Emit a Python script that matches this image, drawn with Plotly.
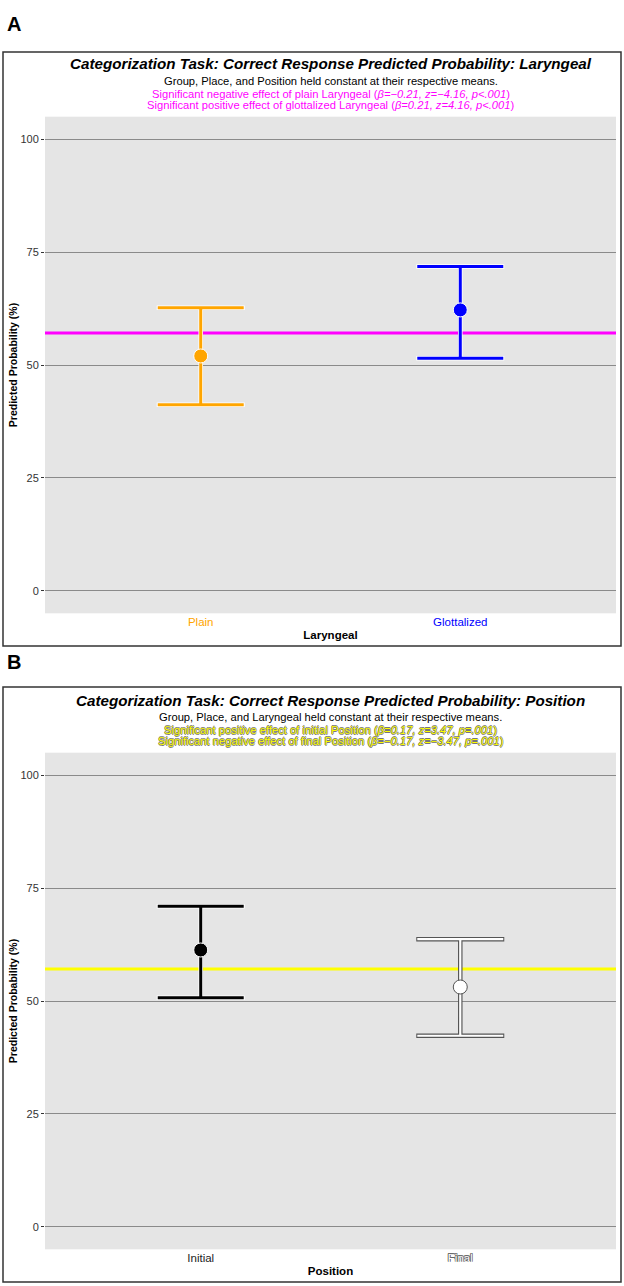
import plotly.graph_objects as go

# ---- data ----
lar_cats = ["Plain", "Glottalized"]
lar_est = [52.0, 62.2]
lar_low = [41.2, 51.5]
lar_high = [62.7, 71.8]
lar_colors = ["#FFA500", "#0000FF"]
lar_mean = 57.1

pos_cats = ["Initial", "Final"]
pos_est = [61.3, 53.1]
pos_low = [50.7, 42.3]
pos_high = [71.0, 63.7]
pos_mean = 57.1

y_ticks = [0, 25, 50, 75, 100]
x_range = [0.4, 2.6]

W, H = 624, 1286
FONT = "Liberation Sans, Arial, sans-serif"

def px(x):
    return x / W

def py(y):
    return 1 - y / H

fig = go.Figure()

def add_panel(est, low, high, mean, mean_color, xa, ya, styles):
    xs = [1, 2]
    # mean reference line (under the error bars)
    fig.add_trace(go.Scatter(x=x_range, y=[mean, mean], mode="lines", xaxis=xa, yaxis=ya,
                             line=dict(color=mean_color, width=3), showlegend=False, hoverinfo="skip"))
    for i in range(2):
        st = styles[i]
        eplus = [high[i] - est[i]]
        eminus = [est[i] - low[i]]
        fig.add_trace(go.Scatter(
            x=[xs[i]], y=[est[i]], mode="markers", xaxis=xa, yaxis=ya,
            marker=dict(size=0.1, color="rgba(0,0,0,0)"),
            error_y=dict(type="data", symmetric=False, array=eplus, arrayminus=eminus,
                         color=st["halo"], thickness=st["halo_th"], width=44),
            showlegend=False, hoverinfo="skip"))
        fig.add_trace(go.Scatter(
            x=[xs[i]], y=[est[i]], mode="markers", xaxis=xa, yaxis=ya,
            marker=dict(size=14, color=st["fill"], line=dict(color=st["mline"], width=st["mlw"])),
            error_y=dict(type="data", symmetric=False, array=eplus, arrayminus=eminus,
                         color=st["bar"], thickness=st["th"], width=43),
            showlegend=False))

add_panel(lar_est, lar_low, lar_high, lar_mean, "#FF00FF", "x", "y", [
    dict(halo="white", halo_th=4.5, bar=lar_colors[0], th=3, fill=lar_colors[0], mline="white", mlw=1),
    dict(halo="white", halo_th=4.5, bar=lar_colors[1], th=3, fill=lar_colors[1], mline="white", mlw=1),
])
add_panel(pos_est, pos_low, pos_high, pos_mean, "#FFFF00", "x2", "y2", [
    dict(halo="white", halo_th=4.5, bar="black", th=3, fill="black", mline="white", mlw=1),
    dict(halo="#555555", halo_th=4.5, bar="white", th=2.2, fill="white", mline="#555555", mlw=1),
])

plot_x = [px(45), px(616)]
axis_common = dict(
    showgrid=True, gridcolor="#8a8a8a", gridwidth=1.3, zeroline=False,
    range=[-5, 105], tickvals=y_ticks, ticks="outside", ticklen=3, tickcolor="#333333",
    tickfont=dict(family=FONT, size=11, color="#333333"),
    showline=False,
)
xcommon = dict(range=x_range, tickvals=[1, 2], showgrid=False, zeroline=False,
               ticks="", showline=False, tickfont=dict(family=FONT, size=11.5))

fig.update_layout(
    width=W, height=H, margin=dict(l=0, r=0, t=0, b=0),
    paper_bgcolor="white", plot_bgcolor="#e5e5e5",
    xaxis=dict(domain=plot_x, anchor="y",
               ticktext=[f'<span style="color:{lar_colors[0]}">{lar_cats[0]}</span>',
                         f'<span style="color:{lar_colors[1]}">{lar_cats[1]}</span>'],
               title=dict(text="<b>Laryngeal</b>", font=dict(family=FONT, size=11.5, color="black"), standoff=4),
               **xcommon),
    yaxis=dict(domain=[py(613.3), py(116.7)], anchor="x",
               title=dict(text="<b>Predicted Probability (%)</b>", font=dict(family=FONT, size=10.5, color="black"), standoff=0),
               **axis_common),
    xaxis2=dict(domain=plot_x, anchor="y2",
                ticktext=[f'<span style="color:#222222">{pos_cats[0]}</span>',
                          f'<span style="color:white;text-shadow:-0.7px -0.7px 0 #666,0.7px -0.7px 0 #666,-0.7px 0.7px 0 #666,0.7px 0.7px 0 #666">{pos_cats[1]}</span>'],
                title=dict(text="<b>Position</b>", font=dict(family=FONT, size=11.5, color="black"), standoff=4),
                **xcommon),
    yaxis2=dict(domain=[py(1249.3), py(752.7)], anchor="x2",
                title=dict(text="<b>Predicted Probability (%)</b>", font=dict(family=FONT, size=10.5, color="black"), standoff=0),
                **axis_common),
)

# panel boxes
fig.add_shape(type="rect", xref="paper", yref="paper", x0=px(3), x1=px(621), y0=py(646), y1=py(52),
              line=dict(color="#333333", width=1.5))
fig.add_shape(type="rect", xref="paper", yref="paper", x0=px(3), x1=px(621), y0=py(1282), y1=py(687),
              line=dict(color="#333333", width=1.5))

cx = px(330.5)
shadow_y = "-0.6px 0 #777,0.6px 0 #777,0 0.6px #777,0 -0.6px #777"

def ann(text, x, y, size, color="black", shadow=None, xanchor="center"):
    f = dict(family=FONT, size=size, color=color)
    if shadow:
        f["shadow"] = shadow
    fig.add_annotation(text=text, x=x, y=y, xref="paper", yref="paper", showarrow=False,
                       xanchor=xanchor, yanchor="middle", font=f)

ann("<b>A</b>", px(5), py(24), 20, xanchor="left")
ann("<b>B</b>", px(5), py(662), 20, xanchor="left")

ann("<b><i>Categorization Task: Correct Response Predicted Probability: Laryngeal</i></b>", cx, py(64), 15.2)
ann("Group, Place, and Position held constant at their respective means.", cx, py(81), 11.2)
ann("Significant negative effect of plain Laryngeal (<i>β=−0.21, z=−4.16, p&lt;.001</i>)", cx, py(93.5), 11.2, color="#FF00FF")
ann("Significant positive effect of glottalized Laryngeal (<i>β=0.21, z=4.16, p&lt;.001</i>)", cx, py(105), 11.2, color="#FF00FF")

ann("<b><i>Categorization Task: Correct Response Predicted Probability: Position</i></b>", cx, py(700), 15.2)
ann("Group, Place, and Laryngeal held constant at their respective means.", cx, py(717), 11.2)
ann("Significant positive effect of initial Position (<i>β=0.17, z=3.47, p=.001</i>)", cx, py(729.5), 11.2, color="#FFFF00", shadow=shadow_y)
ann("Significant negative effect of final Position (<i>β=−0.17, z=−3.47, p=.001</i>)", cx, py(741), 11.2, color="#FFFF00", shadow=shadow_y)

fig.write_html("out.html", config={"displayModeBar": False},
               post_script="document.body.style.margin='0';document.body.style.overflow='hidden';")
